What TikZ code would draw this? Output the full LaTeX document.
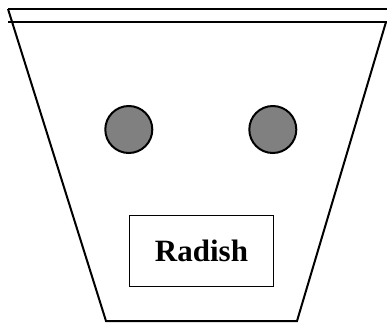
\documentclass[tikz,border=0pt]{standalone}
\usepackage{fontspec}
\setmainfont{Liberation Serif}
\usetikzlibrary{positioning}
\definecolor{seedgray}{HTML}{808080}
\tikzset{
  % vaso
  pot/.style={line width=2pt, black, line join=miter},
  % semi e cartellino
  seed/.style={circle, draw=black, line width=2pt, fill=seedgray, minimum size=47, inner sep=0},
  tag/.style={draw=black, line width=1.8pt, minimum width=144, minimum height=71, inner sep=0,
    font=\fontsize{31}{31}\selectfont\bfseries}
}
\begin{document}
\begin{tikzpicture}[x=1pt, y=-1pt]
    \useasboundingbox (0,0) rectangle (387,322);
    \coordinate (tl) at (8,9);
    \coordinate (tr) at (387,9);
    \coordinate (ml) at (8,22);
    \coordinate (mr) at (387,22);
    \coordinate (rs) at (386,22);
    \coordinate (bl) at (106,321);
    \coordinate (br) at (297,321);
    \draw[pot] (tl) -- (tr);
    \draw[pot] (ml) -- (mr);
    \draw[pot] (tl) -- (bl) -- (br) -- (rs);
    \node[seed] (seedleft) at (128.8,129.5) {};
    \node[seed, right=95 of seedleft] (seedright) {};
    \node[tag] (label) at (201.5,251) {Radish};
\end{tikzpicture}
\end{document}
